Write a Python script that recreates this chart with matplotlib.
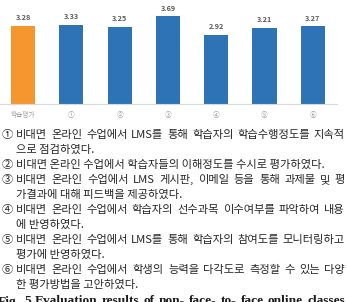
import matplotlib
matplotlib.use("Agg")
import matplotlib.pyplot as plt

# ---- data ----
categories = ['학습평가', '①', '②', '③', '④', '⑤', '⑥']
values = [3.28, 3.33, 3.25, 3.69, 2.92, 3.21, 3.27]
bar_colors = ['#F5962E', '#2E73B6', '#2E73B6', '#2E73B6', '#2E73B6', '#2E73B6', '#2E73B6']

item_marks = ['①', '②', '③', '④', '⑤', '⑥']
item_lines = [
    ['비대면 온라인 수업에서 LMS를 통해 학습자의 학습수행정도를 지속적', '으로 점검하였다.'],
    ['비대면 온라인 수업에서 학습자들의 이해정도를 수시로 평가하였다.'],
    ['비대면 온라인 수업에서 LMS 게시판, 이메일 등을 통해 과제물 및 평', '가결과에 대해 피드백을 제공하였다.'],
    ['비대면 온라인 수업에서 학습자의 선수과목 이수여부를 파악하여 내용', '에 반영하였다.'],
    ['비대면 온라인 수업에서 LMS를 통해 학습자의 참여도를 모니터링하고', '평가에 반영하였다.'],
    ['비대면 온라인 수업에서 학생의 능력을 다각도로 측정할 수 있는 다양', '한 평가방법을 고안하였다.'],
]
caption = 'Fig. 5 Evaluation results of non- face- to- face online classes'

W, H = 347, 302
fig = plt.figure(figsize=(W / 100, H / 100), dpi=100)
fig.patch.set_facecolor('white')

def fx(px):
    return px / W

def fy(py):
    return 1 - py / H

# ---- chart ----
base_px = 104
ax = fig.add_axes([fx(0), fy(base_px), fx(337), base_px / H])
unit = 23.8
ax.set_ylim(0, base_px / unit)
ax.set_xlim((0 - 23) / 48.3, (337 - 23) / 48.3)
xs = list(range(len(categories)))
ax.bar(xs, values, width=0.5, color=bar_colors, zorder=2)
for x, v in zip(xs, values):
    ax.text(x, v + 8 / unit, f'{v:.2f}', ha='center', va='center',
            fontsize=5.2, fontweight='bold', color='#595959',
            family=['Noto Sans CJK KR', 'DejaVu Sans'])
for s in ['top', 'right', 'left']:
    ax.spines[s].set_visible(False)
ax.spines['bottom'].set_color('#d9d9d9')
ax.spines['bottom'].set_linewidth(0.8)
ax.set_yticks([])
ax.set_xticks(xs)
ax.set_xticklabels(categories, fontsize=4.8, color='#a0a0a0',
                   family=['Noto Sans CJK KR', 'DejaVu Sans'])
ax.tick_params(axis='x', length=0, pad=5)
ax.set_facecolor('none')

# ---- paragraph text ----
renderer = fig.canvas.get_renderer()
FS = 8.1
fam = ['Noto Sans CJK KR', 'DejaVu Sans']
tcolor = '#262626'

def put_line(text, left_px, right_px, base_py, justify, fs, family, weight='normal', color=tcolor):
    if not justify:
        fig.text(fx(left_px), fy(base_py), text, fontsize=fs, family=family,
                 weight=weight, color=color, ha='left', va='baseline')
        return
    words = text.split(' ')
    objs = []
    widths = []
    for w in words:
        t = fig.text(0, 0, w, fontsize=fs, family=family, weight=weight,
                     color=color, ha='left', va='baseline')
        bb = t.get_window_extent(renderer=renderer)
        widths.append(bb.width)
        objs.append(t)
    gap = (right_px - left_px - sum(widths)) / max(len(words) - 1, 1)
    x = left_px
    for t, wd in zip(objs, widths):
        t.set_position((fx(x), fy(base_py)))
        x += wd + gap

line_idx = 0
y0 = 133.0
step = 15.05
for mark, lines in zip(item_marks, item_lines):
    for j, ln in enumerate(lines):
        base = y0 + step * line_idx + 4.6
        if j == 0:
            fig.text(fx(2), fy(base), mark, fontsize=FS, family=fam, color=tcolor,
                     ha='left', va='baseline')
        put_line(ln, 16, 345, base, j < len(lines) - 1, FS, fam)
        line_idx += 1

# ---- caption (cut off at bottom, as in the reference) ----
put_line(caption, -2, 345, 304.5, True, 9.6, ['Liberation Serif'], weight='bold', color='#1a1a1a')

fig.savefig('out.png', dpi=100, facecolor='white')
